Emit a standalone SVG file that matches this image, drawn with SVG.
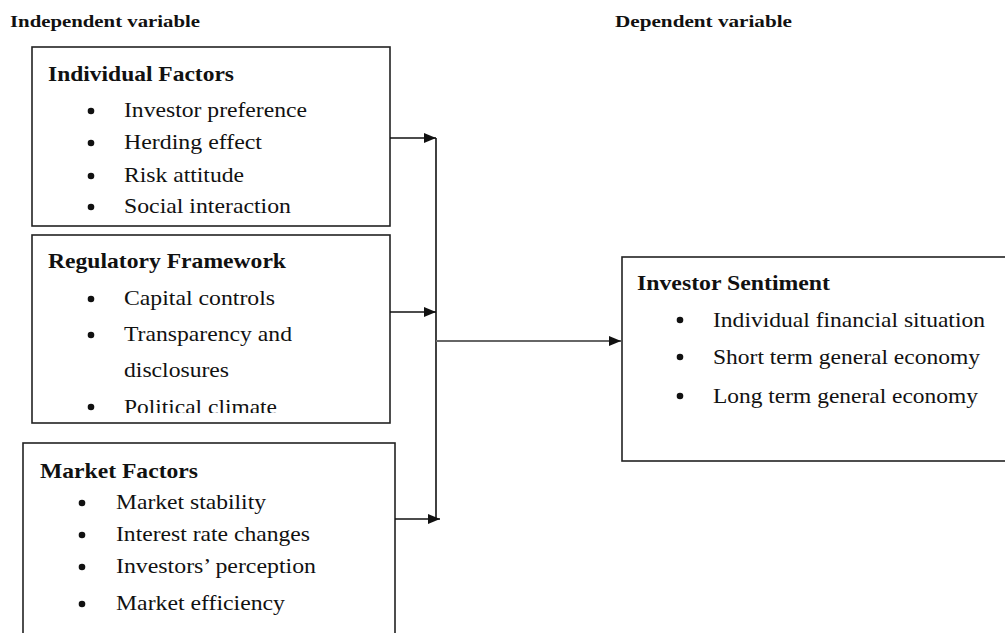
<svg xmlns="http://www.w3.org/2000/svg" width="1005" height="633" viewBox="0 0 1005 633">
<defs>
<style>
.box{fill:#fff;stroke:#222;stroke-width:1.6}
.t{font-family:"Liberation Serif","Times New Roman",Times,serif;fill:#111}
.h{font-size:21px;font-weight:bold}
.i{font-size:22px}
.title{font-size:17px;font-weight:bold}
.conn{stroke:#111;stroke-width:1.6;fill:none}
</style>
<marker id="ah" markerWidth="12" markerHeight="10" refX="12" refY="5" orient="auto" markerUnits="userSpaceOnUse">
<path d="M0,0 L12,5 L0,10 Z" fill="#111"/>
</marker>
<clipPath id="clip2"><rect x="30" y="233" width="362" height="180"/></clipPath>
</defs>
<rect width="1005" height="633" fill="#fff"/>
<text class="t title" x="10" y="27" textLength="190" lengthAdjust="spacingAndGlyphs">Independent variable</text>
<text class="t title" x="615" y="27" textLength="177" lengthAdjust="spacingAndGlyphs">Dependent variable</text>

<g id="individual-factors">
<rect class="box" x="32" y="47" width="358" height="179"/>
<text class="t h" x="48" y="81" textLength="186" lengthAdjust="spacingAndGlyphs">Individual Factors</text>
<circle cx="91" cy="111" r="3.3" fill="#111"/>
<text class="t i" x="124" y="117" textLength="183" lengthAdjust="spacingAndGlyphs">Investor preference</text>
<circle cx="91" cy="143" r="3.3" fill="#111"/>
<text class="t i" x="124" y="149" textLength="138" lengthAdjust="spacingAndGlyphs">Herding effect</text>
<circle cx="91" cy="176" r="3.3" fill="#111"/>
<text class="t i" x="124" y="182" textLength="120" lengthAdjust="spacingAndGlyphs">Risk attitude</text>
<circle cx="91" cy="207" r="3.3" fill="#111"/>
<text class="t i" x="124" y="213" textLength="167" lengthAdjust="spacingAndGlyphs">Social interaction</text>
</g>

<g id="regulatory-framework">
<rect class="box" x="32" y="235" width="358" height="188"/>
<text class="t h" x="48" y="268" textLength="238" lengthAdjust="spacingAndGlyphs">Regulatory Framework</text>
<circle cx="91" cy="299" r="3.3" fill="#111"/>
<text class="t i" x="124" y="305" textLength="151" lengthAdjust="spacingAndGlyphs">Capital controls</text>
<circle cx="91" cy="335" r="3.3" fill="#111"/>
<text class="t i" x="124" y="341" textLength="168" lengthAdjust="spacingAndGlyphs">Transparency and</text>
<text class="t i" x="124" y="377" textLength="105" lengthAdjust="spacingAndGlyphs">disclosures</text>
<g clip-path="url(#clip2)">
<circle cx="91" cy="407" r="3.3" fill="#111"/>
<text class="t i" x="124" y="414" textLength="153" lengthAdjust="spacingAndGlyphs">Political climate</text>
</g>
</g>

<g id="market-factors">
<rect class="box" x="23" y="443" width="372" height="200"/>
<text class="t h" x="40" y="478" textLength="158" lengthAdjust="spacingAndGlyphs">Market Factors</text>
<circle cx="82" cy="503" r="3.3" fill="#111"/>
<text class="t i" x="116" y="509" textLength="150" lengthAdjust="spacingAndGlyphs">Market stability</text>
<circle cx="82" cy="535" r="3.3" fill="#111"/>
<text class="t i" x="116" y="541" textLength="194" lengthAdjust="spacingAndGlyphs">Interest rate changes</text>
<circle cx="82" cy="567" r="3.3" fill="#111"/>
<text class="t i" x="116" y="573" textLength="200" lengthAdjust="spacingAndGlyphs">Investors’ perception</text>
<circle cx="82" cy="604" r="3.3" fill="#111"/>
<text class="t i" x="116" y="610" textLength="169" lengthAdjust="spacingAndGlyphs">Market efficiency</text>
</g>

<g id="investor-sentiment">
<rect class="box" x="622" y="257" width="385" height="204"/>
<text class="t h" x="637" y="290" textLength="193" lengthAdjust="spacingAndGlyphs">Investor Sentiment</text>
<circle cx="680" cy="320" r="3.3" fill="#111"/>
<text class="t i" x="713" y="327" textLength="272" lengthAdjust="spacingAndGlyphs">Individual financial situation</text>
<circle cx="680" cy="357" r="3.3" fill="#111"/>
<text class="t i" x="713" y="364" textLength="267" lengthAdjust="spacingAndGlyphs">Short term general economy</text>
<circle cx="680" cy="396" r="3.3" fill="#111"/>
<text class="t i" x="713" y="403" textLength="265" lengthAdjust="spacingAndGlyphs">Long term general economy</text>
</g>

<g id="connectors">
<line class="conn" x1="390" y1="138" x2="436" y2="138" marker-end="url(#ah)"/>
<line class="conn" x1="390" y1="312" x2="436" y2="312" marker-end="url(#ah)"/>
<line class="conn" x1="395" y1="519" x2="440" y2="519" marker-end="url(#ah)"/>
<line class="conn" x1="436" y1="138" x2="436" y2="519"/>
<line x1="436" y1="341" x2="621" y2="341" stroke="#666" stroke-width="2.2" marker-end="url(#ah)"/>
</g>
</svg>
